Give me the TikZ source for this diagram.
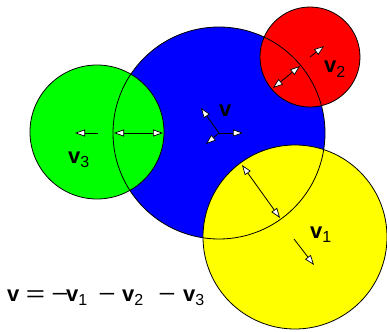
\documentclass[tikz,border=0pt]{standalone}
\usepackage{fontspec}
\setmainfont{Liberation Sans}
\usetikzlibrary{arrows.meta}
\definecolor{cblue}{RGB}{0,0,255}
\definecolor{cgreen}{RGB}{0,255,0}
\definecolor{cred}{RGB}{255,0,0}
\definecolor{cyellow}{RGB}{255,255,0}
\newcommand\vsub[1]{\textbf{v}\raisebox{-4.5pt}{\fontsize{16}{16}\selectfont #1}}
\newcommand\eqsign{\scalebox{1.5}[1]{=}}
\newcommand\minsign{\scalebox{1.35}[1]{−}}
\tikzset{
  disk/.style={line width=0.8pt},
  tipw/.tip={Triangle[fill=white,length=10pt,width=7pt,line width=0.7pt]},
  force/.style={line width=0.8pt,-tipw},
  depth/.style={line width=0.8pt,tipw-tipw},
  lbl/.style={inner sep=0pt,anchor=base west,font=\fontsize{22}{26}\selectfont}
}
\begin{document}
\begin{tikzpicture}[x=1pt,y=-1pt]
\useasboundingbox (0,0) rectangle (387,331);
\coordinate (B) at (219,133);
\coordinate (G) at (97,132);
\coordinate (R) at (310,57);
\coordinate (Y) at (295,237);
% fills
\fill[cblue] (B) circle[radius=106pt];
\fill[cgreen] (G) circle[radius=67pt];
\fill[cred] (R) circle[radius=50pt];
\fill[cyellow] (Y) circle[radius=92pt];
% outlines
\draw[disk] (B) circle[radius=106pt];
\draw[disk] (G) circle[radius=67pt];
\draw[disk] (R) circle[radius=50pt];
\draw[disk] (Y) circle[radius=92pt];
% depth arrows
\coordinate (g1) at (114,133); \coordinate (g2) at (163,133);
\coordinate (y1) at (242,165); \coordinate (y2) at (280,218);
\coordinate (r1) at (273,88);  \coordinate (r2) at (300,66);
\draw[depth] (g1) -- (g2);
\draw[depth] (y1) -- (y2);
\draw[depth] (r1) -- (r2);
% force arrows
\coordinate (gc) at (98,133); \coordinate (gt) at (75,133);
\coordinate (rc) at (310,57); \coordinate (rt) at (324,46);
\coordinate (yc) at (294,239); \coordinate (yt) at (314,265);
\coordinate (bc) at (219,133);
\coordinate (bt1) at (243,133); \coordinate (bt2) at (201,108); \coordinate (bt3) at (206,144);
\draw[force] (gc) -- (gt);
\draw[force] (rc) -- (rt);
\draw[force] (yc) -- (yt);
\draw[force] (bc) -- (bt1);
\draw[force] (bc) -- (bt2);
\draw[force] (bc) -- (bt3);
% labels
\node[lbl] (lv) at (219,117) {\textbf{v}};
\node[lbl] (lv1) at (310,238) {\vsub{1}};
\node[lbl] (lv2) at (324,73) {\vsub{2}};
\node[lbl] (lv3) at (68,163) {\vsub{3}};
\node[lbl] (eq) at (7,301) {\makebox[18.7pt][l]{\textbf{v}}\makebox[25.5pt][l]{\eqsign}\makebox[14.8pt][l]{\minsign}\makebox[32.2pt][l]{\vsub{1}}\makebox[23.8pt][l]{\minsign}\makebox[36.2pt][l]{\vsub{2}}\makebox[24.8pt][l]{\minsign}\vsub{3}};
\end{tikzpicture}
\end{document}
